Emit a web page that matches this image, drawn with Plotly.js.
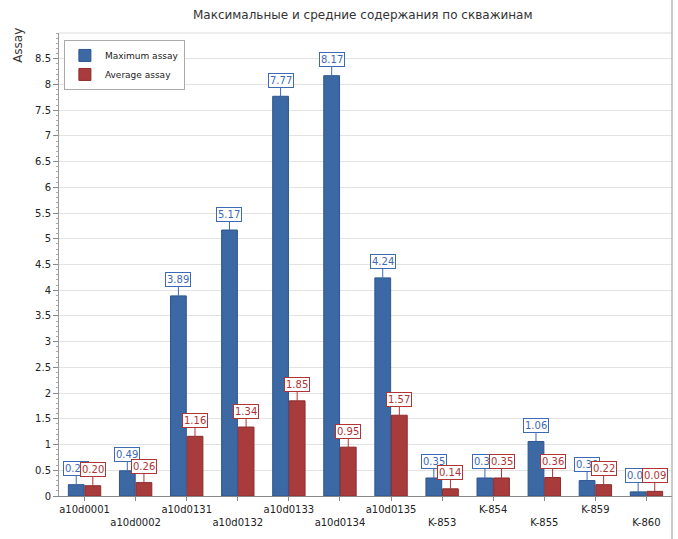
<!DOCTYPE html>
<html>
<head>
<meta charset="utf-8">
<script src="https://cdn.plot.ly/plotly-3.0.1.min.js"></script>
<style>html,body{margin:0;padding:0;background:#fff;}#chart{width:678px;height:539px;}</style>
</head>
<body>
<div id="chart"></div>
<script>
const categories = ["a10d0001","a10d0002","a10d0131","a10d0132","a10d0133","a10d0134","a10d0135","K-853","K-854","K-855","K-859","K-860"];
const maxAssay = [0.22, 0.49, 3.89, 5.17, 7.77, 8.17, 4.24, 0.35, 0.35, 1.06, 0.30, 0.08];
const avgAssay = [0.20, 0.26, 1.16, 1.34, 1.85, 0.95, 1.57, 0.14, 0.35, 0.36, 0.22, 0.09];
const yTicks = [0,0.5,1,1.5,2,2.5,3,3.5,4,4.5,5,5.5,6,6.5,7,7.5,8,8.5];
const titleText = "Максимальные и средние содержания по скважинам";

const blue = "#3C68A4", blueLine = "#2C5590", blueText = "#3D6AB5";
const red = "#A83C3C", redLine = "#8E2C2C", redText = "#B03434";
const bargap = 0.35;
const off = (1 - bargap) / 4;

const idx = categories.map((c, i) => i);
const tickText = categories.map((c, i) => i % 2 === 0 ? c : "<br>" + c);

const traces = [
  {type: "bar", name: "Maximum assay", x: idx, y: maxAssay,
   marker: {color: blue, line: {color: blueLine, width: 1}}, hoverinfo: "none"},
  {type: "bar", name: "Average assay", x: idx, y: avgAssay,
   marker: {color: red, line: {color: redLine, width: 1}}, hoverinfo: "none"}
];

function fmt(v){ return v.toFixed(2); }
const annotations = [];
idx.forEach(i => {
  annotations.push({x: i - off, y: maxAssay[i], xref: "x", yref: "y", text: fmt(maxAssay[i]),
    showarrow: true, arrowhead: 0, arrowwidth: 1, arrowcolor: blueText, ax: 0, ay: -16,
    bgcolor: "#fff", bordercolor: blueText, borderwidth: 1, borderpad: 1,
    font: {family: "DejaVu Sans", size: 10, color: blueText}});
});
idx.forEach(i => {
  annotations.push({x: i + off, y: avgAssay[i], xref: "x", yref: "y", text: fmt(avgAssay[i]),
    showarrow: true, arrowhead: 0, arrowwidth: 1, arrowcolor: redText, ax: 0, ay: -16,
    bgcolor: "#fff", bordercolor: redText, borderwidth: 1, borderpad: 1,
    font: {family: "DejaVu Sans", size: 10, color: redText}});
});
annotations.push({text: "Assay", xref: "paper", yref: "paper", x: -0.068, y: 1.015,
  xanchor: "center", yanchor: "top", textangle: -90, showarrow: false,
  font: {family: "DejaVu Sans", size: 12, color: "#333"}});

const layout = {
  width: 678, height: 539,
  margin: {l: 59, r: 6, t: 33, b: 43},
  paper_bgcolor: "#fff", plot_bgcolor: "#fff",
  title: {text: titleText, x: 0.535, xanchor: "center", y: 0.972, yanchor: "middle",
          font: {family: "DejaVu Sans", size: 12, color: "#333"}},
  barmode: "group", bargap: bargap, bargroupgap: 0.05,
  showlegend: true,
  legend: {x: 0.008, y: 0.985, xanchor: "left", yanchor: "top",
           bgcolor: "#fff", bordercolor: "#aaa", borderwidth: 1,
           font: {family: "DejaVu Sans", size: 9, color: "#222"},
           tracegroupgap: 0, itemwidth: 30, tracegroupgap: 0},
  xaxis: {
    range: [-0.5, categories.length - 0.5],
    tickmode: "array", tickvals: idx, ticktext: tickText, tickangle: 0,
    ticks: "outside", ticklen: 4, tickcolor: "#888",
    showline: true, linecolor: "#888", linewidth: 1,
    showgrid: false, zeroline: false,
    tickfont: {family: "DejaVu Sans", size: 10, color: "#222"}
  },
  yaxis: {
    range: [0, 9],
    tickmode: "array", tickvals: yTicks, ticktext: yTicks.map(String),
    ticks: "outside", ticklen: 5, tickcolor: "#888",
    minor: {dtick: 0.1, ticks: "outside", ticklen: 2, tickcolor: "#aaa", showgrid: false},
    showline: true, linecolor: "#999", linewidth: 1,
    showgrid: true, gridcolor: "#e3e3e3", gridwidth: 1, zeroline: false,
    tickfont: {family: "DejaVu Sans", size: 10, color: "#222"}
  },
  shapes: [
    {type: "line", xref: "paper", yref: "paper", x0: 0, x1: 1, y0: 1, y1: 1,
     line: {color: "#dcdcdc", width: 1}},
    {type: "line", xref: "paper", yref: "paper", x0: 1, x1: 1, y0: -0.1, y1: 1.08,
     line: {color: "#999", width: 1}}
  ],
  annotations: annotations
};

Plotly.newPlot("chart", traces, layout, {staticPlot: true, displayModeBar: false});
</script>
</body>
</html>
